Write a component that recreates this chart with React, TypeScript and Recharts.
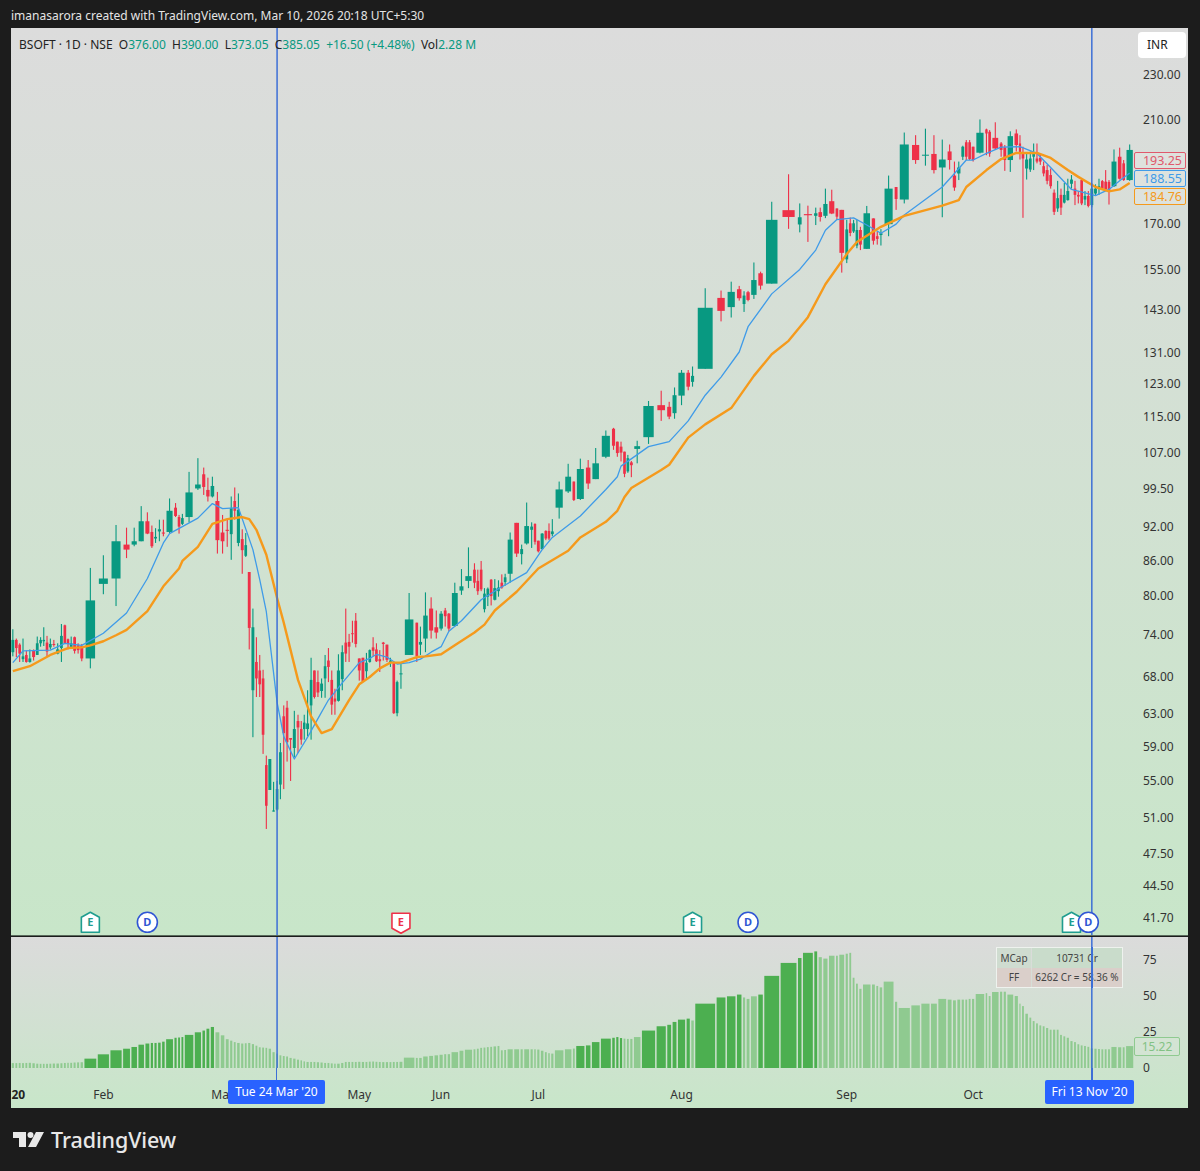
import { Bar, ComposedChart, Line, ReferenceDot, ReferenceLine, XAxis, YAxis } from "recharts";

const opens = [
  71.4, 73.2, 72.5, 70.4, 71.0, 70.0, 71.7, 71.0, 72.7, 73.0,
  72.8, 72.1, 72.6, 71.2, 72.0, 75.4, 73.3, 72.1, 73.6, 72.4,
  72.3, 70.5, 82.0, 82.9, 88.8, 88.8, 89.4, 93.1, 91.1, 89.9,
  91.2, 91.0, 91.1, 95.7, 93.9, 92.6, 93.9, 99.5, 102.4, 99.2,
  97.9, 97.0, 91.0, 91.5, 90.7, 97.0, 89.1, 89.8, 86.8, 84.0,
  66.1, 70.0, 68.8, 67.7, 56.8, 54.0, 51.7, 51.9, 54.6, 62.7,
  63.8, 60.0, 58.8, 62.1, 61.1, 61.1, 61.1, 64.1, 68.8, 67.2,
  66.0, 67.7, 70.2, 67.5, 65.0, 64.7, 67.6, 72.8, 72.9, 74.2,
  76.1, 70.5, 70.6, 68.7, 70.0, 72.1, 71.8, 70.4, 72.8, 72.5,
  70.0, 70.0, 63.1, 68.3, 71.0, 75.8, 72.5, 73.4, 78.0, 75.1,
  74.9, 77.7, 77.2, 75.3, 80.9, 82.5, 84.4, 82.5, 84.4, 77.9,
  79.9, 82.7, 79.4, 80.8, 82.2, 82.3, 83.7, 92.8, 87.1, 89.0,
  91.5, 92.6, 89.5, 88.0, 91.3, 91.3, 90.7, 95.7, 98.9, 100.9,
  97.4, 103.8, 101.4, 106.1, 112.3, 109.4, 108.3, 107.2, 103.0, 104.9,
  107.8, 110.4, 117.8, 117.4, 115.9, 120.1, 125.8, 123.5, 126.8, 146.4,
  143.7, 149.0, 144.6, 148.1, 147.3, 153.9, 150.7, 174.9, 169.9, 173.5,
  172.9, 174.2, 172.9, 178.1, 175.5, 175.0, 158.3, 170.3, 167.5, 162.8,
  168.0, 161.7, 172.0, 165.9, 166.3, 170.0, 183.3, 178.7, 199.6, 195.3,
  196.0, 190.7, 197.0, 187.6, 188.4, 194.9, 200.7, 200.7, 198.9, 196.5,
  206.0, 205.0, 202.5, 200.2, 198.6, 193.6, 204.3, 200.2, 196.2, 190.3,
  189.9, 194.9, 194.2, 194.5, 191.2, 189.7, 187.8, 181.2, 175.5, 180.4,
  177.6, 178.5, 184.5, 182.7, 180.4, 185.9, 178.7, 180.0, 176.7, 180.9,
  182.6, 185.5, 185.3, 185.2, 183.6, 194.9, 192.3, 185.9,
];
const highs = [
  74.8, 73.4, 72.7, 73.4, 71.6, 71.8, 71.8, 73.7, 73.6, 75.1,
  73.8, 73.4, 73.2, 72.7, 75.6, 75.5, 73.4, 73.7, 73.7, 72.7,
  72.6, 84.7, 86.9, 92.4, 91.9, 91.9, 96.0, 94.8, 92.3, 91.8,
  93.4, 93.4, 97.5, 96.6, 94.3, 94.5, 102.9, 105.8, 103.8, 101.7,
  101.9, 98.8, 94.3, 93.5, 97.9, 99.7, 98.5, 91.6, 90.9, 84.0,
  78.0, 73.6, 71.0, 68.9, 57.9, 57.5, 54.9, 55.0, 59.4, 64.1,
  64.7, 60.0, 63.4, 62.9, 62.1, 62.9, 66.1, 70.6, 68.8, 68.8,
  67.7, 71.0, 72.0, 68.8, 66.3, 71.1, 72.4, 78.0, 74.1, 76.1,
  77.3, 70.5, 70.6, 71.3, 71.8, 73.6, 72.7, 71.7, 72.9, 72.5,
  70.6, 70.0, 67.4, 69.7, 80.5, 75.8, 75.2, 80.6, 79.8, 77.7,
  77.6, 78.1, 77.3, 82.2, 84.5, 88.3, 85.5, 84.4, 85.9, 81.3,
  81.4, 82.8, 82.8, 82.6, 83.6, 83.7, 91.0, 92.8, 88.8, 96.7,
  92.9, 92.7, 89.5, 90.9, 91.4, 92.7, 93.5, 100.9, 104.6, 100.9,
  105.7, 105.4, 108.0, 111.9, 112.5, 109.4, 109.4, 107.2, 106.5, 105.2,
  109.6, 118.8, 121.3, 118.6, 122.1, 126.5, 126.5, 127.4, 149.3, 148.6,
  151.3, 150.0, 148.4, 148.5, 157.3, 154.4, 177.9, 188.1, 177.3, 176.5,
  175.8, 175.8, 182.7, 182.3, 175.5, 175.0, 171.5, 172.3, 171.5, 171.5,
  169.1, 176.4, 172.0, 167.5, 168.3, 187.6, 183.3, 204.7, 203.6, 206.3,
  203.6, 201.8, 199.8, 193.0, 193.0, 199.3, 201.6, 201.6, 198.9, 210.2,
  206.3, 205.7, 209.0, 200.8, 199.6, 205.2, 206.0, 203.6, 198.9, 196.2,
  197.0, 200.2, 200.2, 196.2, 193.0, 191.7, 190.3, 182.4, 185.6, 182.7,
  184.8, 186.4, 187.8, 185.6, 181.8, 186.4, 181.8, 181.8, 184.7, 184.3,
  186.4, 185.9, 189.7, 185.9, 197.8, 198.5, 193.6, 199.8,
];
const lows = [
  70.8, 70.7, 70.0, 70.0, 69.9, 69.9, 70.2, 71.0, 72.2, 72.3,
  70.7, 71.8, 72.2, 71.1, 70.0, 72.6, 71.8, 72.0, 71.2, 71.2,
  70.1, 69.1, 80.3, 78.4, 86.4, 88.5, 89.4, 90.7, 88.2, 89.1,
  89.4, 90.3, 90.9, 93.9, 90.8, 92.4, 92.9, 99.2, 98.2, 96.9,
  97.7, 87.2, 87.2, 88.4, 86.1, 93.4, 88.5, 83.7, 86.6, 71.8,
  60.1, 65.2, 65.2, 58.1, 49.9, 54.0, 51.7, 51.8, 53.0, 54.1,
  57.2, 55.0, 57.7, 58.2, 59.2, 59.8, 60.2, 59.8, 65.0, 65.2,
  65.1, 65.1, 67.2, 62.9, 62.9, 64.6, 66.1, 70.0, 70.0, 72.8,
  72.1, 67.4, 67.2, 67.6, 69.9, 70.8, 70.0, 68.6, 70.2, 70.0,
  69.3, 63.0, 62.7, 66.3, 71.0, 70.0, 71.0, 71.4, 73.4, 73.4,
  74.6, 75.2, 74.5, 75.2, 80.2, 81.3, 81.3, 80.2, 80.8, 77.4,
  78.4, 78.5, 79.3, 79.9, 81.2, 81.7, 82.2, 86.6, 85.3, 88.8,
  88.2, 88.8, 87.4, 87.9, 89.6, 89.6, 90.3, 93.6, 98.6, 97.0,
  97.2, 99.4, 101.4, 105.8, 107.6, 106.1, 105.1, 101.8, 102.7, 101.8,
  104.7, 108.9, 114.1, 114.5, 114.6, 117.8, 121.4, 122.3, 126.8, 139.6,
  140.7, 145.6, 142.3, 145.4, 146.1, 148.9, 150.7, 168.4, 167.2, 164.0,
  169.7, 170.9, 172.1, 173.5, 171.5, 154.1, 157.1, 165.9, 167.0, 161.9,
  161.3, 161.7, 163.1, 163.1, 162.8, 165.9, 175.0, 177.3, 192.1, 191.4,
  188.4, 172.4, 189.9, 181.9, 185.9, 193.6, 193.6, 193.6, 193.0, 196.2,
  195.5, 194.9, 197.8, 194.9, 189.4, 189.0, 197.0, 193.8, 172.2, 186.1,
  189.0, 189.7, 192.3, 191.7, 187.3, 184.3, 182.7, 173.2, 174.3, 173.2,
  177.3, 178.3, 182.7, 176.7, 177.3, 176.7, 176.7, 175.9, 175.9, 180.4,
  180.4, 182.4, 181.8, 176.9, 183.3, 186.1, 185.6, 185.6,
];
const closes = [
  73.2, 72.0, 71.2, 70.8, 70.0, 70.5, 70.7, 72.7, 73.2, 73.2,
  71.5, 72.6, 72.5, 71.8, 73.8, 72.7, 72.6, 72.7, 71.6, 71.7,
  70.5, 79.3, 82.9, 89.4, 87.9, 89.4, 93.1, 90.8, 88.5, 90.2,
  91.6, 90.8, 95.1, 94.1, 92.1, 93.7, 98.7, 100.3, 99.8, 97.9,
  100.0, 89.6, 89.4, 91.3, 95.6, 95.1, 95.3, 87.8, 88.7, 75.0,
  75.1, 67.7, 66.9, 60.4, 52.3, 57.5, 51.8, 54.1, 58.3, 60.6,
  59.5, 59.8, 61.1, 61.3, 59.8, 61.9, 61.8, 67.5, 65.2, 65.8,
  67.0, 69.4, 69.3, 64.2, 64.6, 68.8, 71.4, 71.2, 72.2, 74.1,
  72.6, 68.8, 67.3, 69.9, 71.7, 71.6, 70.1, 70.1, 72.6, 70.3,
  70.2, 63.1, 67.2, 68.4, 76.3, 70.8, 72.9, 76.9, 74.6, 74.3,
  77.2, 76.8, 74.9, 80.5, 81.6, 83.3, 82.2, 80.8, 81.1, 80.4,
  81.2, 80.0, 81.3, 81.4, 81.4, 83.1, 89.7, 87.2, 88.0, 92.2,
  92.1, 89.3, 87.6, 90.8, 89.9, 89.9, 91.2, 99.3, 101.9, 97.2,
  103.5, 100.5, 104.7, 110.7, 108.5, 106.9, 107.0, 102.5, 105.8, 104.3,
  108.4, 117.6, 116.6, 115.1, 120.2, 125.8, 122.3, 125.0, 143.5, 142.6,
  148.2, 146.3, 147.1, 145.8, 151.8, 150.1, 171.5, 172.5, 172.4, 173.1,
  173.8, 172.5, 177.1, 173.7, 172.6, 160.4, 168.2, 167.0, 170.3, 168.0,
  163.1, 173.8, 164.4, 165.0, 166.9, 182.7, 178.9, 199.8, 193.6, 195.7,
  189.7, 193.8, 193.6, 183.1, 190.7, 198.9, 194.9, 194.0, 193.6, 204.6,
  204.3, 196.2, 198.2, 197.6, 193.6, 203.2, 199.6, 196.2, 194.2, 193.8,
  194.2, 196.2, 193.0, 193.0, 188.4, 185.6, 183.6, 174.3, 179.2, 175.8,
  180.4, 181.8, 186.1, 180.4, 179.8, 177.3, 180.0, 176.4, 182.7, 182.7,
  183.6, 182.7, 182.4, 181.8, 193.0, 186.4, 185.9, 197.6,
];
// relative traded volume per session, sets how wide each candle is
const volumes = [
  11, 10, 10, 10, 10, 11, 11.5, 10.5, 9.5, 9.5,
  10, 10, 11, 12, 10.5, 10, 9, 10, 10.5, 10.5,
  11.5, 40, 38, 38, 25, 21, 21, 16, 11, 11,
  12, 12, 25, 11, 10, 10, 30, 23, 12, 13,
  14, 16, 15, 13, 11, 10, 12, 11, 10, 11,
  11, 10, 10, 10, 9.5, 11.5, 11, 10, 10, 10,
  10, 11, 11.5, 10.5, 9, 9, 11, 10, 10, 11,
  11, 10, 10, 10, 9, 12, 11, 10, 10, 10,
  10, 11, 11, 10, 10, 10, 10, 10, 11, 11,
  10, 10, 10, 13, 36, 10, 12, 18, 16, 15,
  14, 10.5, 11.5, 24, 16, 26, 10, 10, 10, 10,
  10, 10, 12, 10, 10, 10, 20, 19, 11, 19,
  11, 9, 11, 12, 10, 9, 11, 30, 24, 10,
  29, 18, 27, 34, 12, 11, 11, 10, 10, 11,
  24, 44, 32, 16, 16, 26, 14, 12, 64, 31,
  30, 18, 11, 13, 22, 18, 49, 52, 15, 34,
  13, 14, 17, 21, 10, 19, 11, 10, 10, 10,
  11, 27, 13, 10, 12, 34, 11, 38, 30, 29,
  22, 28, 16, 13, 13, 11, 10, 10, 11, 30,
  9, 10, 24, 11, 11, 22, 14, 8, 10, 12,
  10, 10, 10, 10, 10, 11, 10, 11, 10, 10,
  10, 11, 11, 10, 10, 10, 10, 10, 11, 11,
  10, 10, 10, 10, 20, 14, 10, 26,
];
const strength = [
  3.4, 3.4, 3.5, 3.4, 3.5, 3.6, 3.3, 3.0, 2.9, 2.9,
  2.9, 3.0, 3.1, 3.1, 3.3, 3.5, 3.6, 3.6, 3.8, 3.9,
  4.0, 6.5, 9.5, 12.3, 13.4, 14.6, 16.2, 17, 17.4, 17.4,
  17.6, 18.3, 20, 21, 21.2, 21.5, 23, 24.8, 26, 27.3,
  28.5, 24.8, 22.7, 20, 19, 18, 17.4, 17, 17.2, 17.4,
  16.6, 15.5, 14.4, 14.2, 14, 13.4, 11, 10, 8.8, 8.3,
  8, 7, 6.5, 5.8, 5.3, 4.6, 4.2, 4.2, 4.2, 4,
  3.8, 3.5, 3.5, 3.2, 3, 3, 3.5, 4.2, 4.2, 4.2,
  4.2, 4.3, 4.2, 4.2, 4.4, 4.5, 4.3, 4.2, 4.1, 4.1,
  4.1, 4.2, 4.2, 4.3, 7.2, 7, 7, 8, 8.4, 8.8,
  9.2, 9.6, 9.6, 11, 12, 12.7, 13, 13.4, 14, 14.2,
  14.5, 14.7, 15, 15.3, 12.3, 12.5, 13, 13, 13, 13,
  13, 13, 12.8, 12, 11, 10.3, 10, 12.3, 13, 13.5,
  15.3, 15.7, 18, 20.4, 21, 21.5, 20.8, 20.4, 20.2, 20.2,
  21.5, 26, 29, 30, 32, 33.6, 34.3, 33, 44.7, 49,
  49.8, 51, 49, 48, 49.8, 51, 64, 73, 76.4, 80,
  81, 77, 76, 78, 78, 78.7, 79.4, 80, 62.7, 58.6,
  55, 58, 58, 57, 56, 60, 46, 41.7, 43.5, 44.7,
  44.7, 48, 47.5, 47, 47.5, 47.5, 47.5, 48, 48, 51.4,
  52, 50, 52.8, 53, 53, 51, 50, 44.7, 43, 37.7,
  35, 32.6, 31, 29.6, 29, 27.8, 26.6, 26.6, 26.6, 23,
  22, 21, 18.7, 18, 16.5, 15.7, 15.3, 14.7, 13.6, 13.4,
  13.2, 13, 13, 13, 14.6, 14.4, 14.4, 15.22,
];
// [first, last] sessions where the lower study prints in the darker green
const strongRanges = [[21, 40], [130, 136], [141, 146], [148, 151], [155, 160]];

// moving averages as [session, price]
const fastAverage = [
  [0, 69.9], [3, 71.6], [11, 71.7], [15, 72.7], [20, 72.4], [22, 74.2], [24, 77.3], [27, 82.9], [31, 89.1], [32, 90.8],
  [37, 93.7], [40, 96.5], [42, 95.5], [46, 95.7], [50, 87.9], [52, 82.7], [54, 77.5], [57, 64.5], [59, 60.2], [62, 57.5],
  [66, 60.1], [69, 62.4], [72, 64.8], [76, 67.1], [81, 69.9], [84, 70.5], [86, 71.1], [89, 70.7], [92, 69.7], [94, 69.9],
  [96, 70.4], [98, 71.4], [100, 72.2], [102, 74.5], [104, 76.1], [108, 79.4], [113, 81.2], [119, 83.9], [123, 87.9], [126, 90.1],
  [130, 94.1], [133, 99.3], [135, 101.9], [136, 104.1], [141, 108.3], [143, 109.4], [146, 114.1], [148, 120.2], [149, 124.7], [151, 131.2],
  [153, 138.1], [156, 147.6], [158, 155.1], [160, 161.3], [162, 167.9], [164, 171.6], [168, 172.2], [171, 169.7], [174, 166.9], [176, 170.0],
  [177, 173.2], [181, 183.3], [183, 188.4], [186, 193.6], [188, 193.6], [190, 196.2], [193, 198.7], [197, 198.9], [202, 196.2], [206, 190.7],
  [212, 182.4], [219, 180.1], [223, 182.4], [225, 185.6], [227, 188.55],
];
const slowAverage = [
  [0, 68.7], [5, 69.4], [11, 71.0], [16, 72.0], [20, 72.1], [21, 72.4], [22, 73.0], [23, 73.9], [24, 74.7], [27, 77.6],
  [31, 81.6], [34, 84.6], [35, 85.9], [37, 88.4], [40, 92.6], [43, 93.5], [47, 93.9], [49, 93.5], [51, 91.5], [54, 87.0],
  [57, 79.7], [59, 75.8], [63, 67.5], [67, 62.7], [70, 60.6], [73, 61.1], [78, 64.8], [81, 66.9], [84, 67.9], [87, 69.1],
  [90, 69.9], [93, 69.9], [95, 70.7], [97, 70.8], [100, 71.1], [103, 72.4], [106, 74.3], [109, 75.5], [112, 77.7], [117, 80.7],
  [122, 84.6], [128, 87.7], [130, 90.1], [133, 93.0], [135, 95.1], [137, 97.8], [139, 99.6], [142, 103.3], [143, 104.4], [146, 110.3],
  [148, 113.3], [150, 117.1], [154, 125.0], [156, 130.6], [157, 134.2], [159, 140.8], [162, 150.5], [166, 160.0], [169, 164.0], [174, 169.1],
  [177, 172.9], [181, 176.5], [184, 178.5], [186, 183.3], [190, 189.7], [193, 194.0], [196, 196.4], [202, 196.4], [206, 194.4], [211, 189.7],
  [214, 187.1], [219, 183.3], [223, 181.7], [225, 182.4], [227, 184.76],
];

const priceTicks = [230, 210, 170, 155, 143, 131, 123, 115, 107, 99.5, 92, 86, 80, 74, 68, 63, 59, 55, 51, 47.5, 44.5, 41.7];
const strengthTicks = [0, 25, 50, 75];
const monthLabels = ["20", "Feb", "Mar", "May", "Jun", "Jul", "Aug", "Sep", "Oct"];
const monthSessions = [1, 22, 42, 81, 100, 122, 145, 166, 188];
const events = [
  { session: 21, kind: "E", tone: "up" },
  { session: 27, kind: "D", tone: "div" },
  { session: 93, kind: "E", tone: "down" },
  { session: 147, kind: "E", tone: "up" },
  { session: 153, kind: "D", tone: "div" },
  { session: 212, kind: "E", tone: "up" },
  { session: 217, kind: "D", tone: "div" },
];
const crosshairSessions = [57, 218];

const UP = "#089981";
const DOWN = "#ee3048";
const PLOT_W = 1123;
const FONT = "'Noto Sans', sans-serif";

let running = 0;
const rows = opens.map((open, i) => {
  const x = running + volumes[i] / 2;
  running += volumes[i];
  return {
    x,
    open,
    close: closes[i],
    wick: [lows[i], highs[i]],
    body: [Math.min(open, closes[i]), Math.max(open, closes[i])],
    volume: volumes[i],
    strength: strength[i],
    strong: strongRanges.some(([a, b]) => i >= a && i <= b),
    fast: undefined as number | undefined,
    slow: undefined as number | undefined,
  };
});
fastAverage.forEach(([i, v]) => (rows[i].fast = v));
slowAverage.forEach(([i, v]) => (rows[i].slow = v));
const totalVolume = running;
const unit = PLOT_W / totalVolume;
const monthTicks = monthSessions.map((i) => rows[i].x);

function Wick(props: any) {
  const { x, y, width, height, payload } = props;
  const fill = payload.close >= payload.open ? UP : DOWN;
  return <rect x={x + width / 2 - 0.55} y={y} width={1.1} height={height} fill={fill} />;
}

function Body(props: any) {
  const { x, y, width, height, payload } = props;
  const fill = payload.close >= payload.open ? UP : DOWN;
  const w = payload.volume * unit * 0.68 + 0.4;
  return <rect x={x + width / 2 - w / 2} y={y} width={w} height={Math.max(height, 1)} fill={fill} />;
}

function StrengthBar(props: any) {
  const { x, y, width, height, payload } = props;
  const w = Math.max(payload.volume * unit - 1.5, 1);
  return <rect x={x + width / 2 - w / 2} y={y} width={w} height={height} fill={payload.strong ? "#4caf50" : "#8fca90"} />;
}

function EventMark(props: any) {
  const { cx, cy, kind, tone } = props;
  const color = tone === "up" ? "#1f9d8f" : tone === "down" ? "#ee3048" : "#2f55d4";
  const textProps = { x: cx, y: cy + 4, textAnchor: "middle" as const, fontSize: 11, fontWeight: 700, fontFamily: FONT, fill: color };
  if (tone === "div") {
    return (
      <g>
        <circle cx={cx} cy={cy} r={10} fill="#fff" stroke={color} strokeWidth={1.6} />
        <text {...textProps}>{kind}</text>
      </g>
    );
  }
  const pts = tone === "up"
    ? `${cx},${cy - 10} ${cx + 9},${cy - 5} ${cx + 9},${cy + 10} ${cx - 9},${cy + 10} ${cx - 9},${cy - 5}`
    : `${cx - 9},${cy - 9} ${cx + 9},${cy - 9} ${cx + 9},${cy + 6} ${cx},${cy + 11} ${cx - 9},${cy + 6}`;
  return (
    <g>
      <polygon points={pts} fill="#fff" stroke={color} strokeWidth={1.6} strokeLinejoin="round" />
      <text {...textProps}>{kind}</text>
    </g>
  );
}

function MonthTick(props: any) {
  const { x, y, payload } = props;
  const label = monthLabels[monthTicks.indexOf(payload.value)];
  if (label === "20") {
    // year mark sits hard against the pane's left edge
    return <text x={0.5} y={y + 11} fontSize={12} fontFamily={FONT} fontWeight={700} fill="#222">{label}</text>;
  }
  return (
    <text x={x} y={y + 11} textAnchor="middle" fontSize={12} fontFamily={FONT} fill="#333">
      {label}
    </text>
  );
}

const box = (left: number, top: number, width: number, height: number, extra: any = {}) => ({
  position: "absolute" as const, left, top, width, height, ...extra,
});

function PriceTag({ top, color, text }: { top: number; color: string; text: string }) {
  return (
    <div style={box(1134, top, 52, 17, {
      border: `1.5px solid ${color}`, borderRadius: 2, color, fontSize: 12.5, lineHeight: "15px",
      textAlign: "right", paddingRight: 3, boxSizing: "border-box", fontFamily: FONT,
      background: "rgba(222,226,222,0.9)",
    })}>
      {text}
    </div>
  );
}

export default function App() {
  return (
    <div style={box(0, 0, 1200, 1171, { background: "#1c1c1c", overflow: "hidden", fontFamily: FONT })}>
      <div style={box(11, 7, 600, 18, { color: "#e4e4e4", fontSize: 12, lineHeight: "18px" })}>
        imanasarora created with TradingView.com, Mar 10, 2026 20:18 UTC+5:30
      </div>

      {/* panes */}
      <div style={box(11, 28, 1177, 907, { background: "linear-gradient(#dcdcdc, #c8e6c9)" })} />
      <div style={box(11, 937, 1177, 171, { background: "linear-gradient(#dbdbdb, #c8e6c9)" })} />
      <div style={box(11, 935, 1177, 1, { background: "#5a6a5c" })} />

      <div style={box(11, 28, 1177, 907)}>
        <ComposedChart width={1177} height={907} data={rows} margin={{ top: 0, right: 0, bottom: 0, left: 0 }}>
          <XAxis xAxisId="wick" dataKey="x" type="number" domain={[0, totalVolume]} hide />
          <XAxis xAxisId="body" dataKey="x" type="number" domain={[0, totalVolume]} hide />
          <YAxis
            orientation="right"
            width={54}
            scale="log"
            domain={[40.25, 253]}
            allowDataOverflow
            ticks={priceTicks}
            interval={0}
            tickFormatter={(v: number) => v.toFixed(2)}
            tick={{ fontSize: 12, fill: "#333", fontFamily: FONT }}
            tickSize={0}
            tickMargin={9}
            axisLine={false}
          />
          <Bar xAxisId="wick" dataKey="wick" barSize={1} shape={Wick} isAnimationActive={false} />
          <Bar xAxisId="body" dataKey="body" barSize={1} shape={Body} isAnimationActive={false} />
          <Line xAxisId="body" dataKey="fast" stroke="#3f9be8" strokeWidth={1.3} strokeLinejoin="round" dot={false} connectNulls isAnimationActive={false} />
          <Line xAxisId="body" dataKey="slow" stroke="#f59a1c" strokeWidth={2.4} strokeLinejoin="round" dot={false} connectNulls isAnimationActive={false} />
          {crosshairSessions.map((i) => (
            <ReferenceLine key={i} xAxisId="body" x={rows[i].x} stroke="#3d6fd6" strokeWidth={1.5} />
          ))}
          {events.map((e, i) => (
            <ReferenceDot
              key={i}
              xAxisId="body"
              x={rows[e.session].x}
              y={41.3}
              ifOverflow="visible"
              shape={(p: any) => <EventMark {...p} kind={e.kind} tone={e.tone} />}
            />
          ))}
        </ComposedChart>
      </div>

      <div style={box(11, 937, 1177, 171)}>
        <ComposedChart width={1177} height={171} data={rows} margin={{ top: 0, right: 0, bottom: 0, left: 0 }}>
          <XAxis
            dataKey="x"
            type="number"
            domain={[0, totalVolume]}
            ticks={monthTicks}
            interval={0}
            height={40}
            tick={MonthTick}
            tickLine={false}
            axisLine={false}
            tickSize={0}
            tickMargin={20}
          />
          <YAxis
            orientation="right"
            width={54}
            domain={[0, 91]}
            ticks={strengthTicks}
            interval={0}
            tick={{ fontSize: 12, fill: "#333", fontFamily: FONT }}
            tickSize={0}
            tickMargin={9}
            axisLine={false}
          />
          <Bar dataKey="strength" barSize={1} shape={StrengthBar} isAnimationActive={false} />
          {crosshairSessions.map((i) => (
            <ReferenceLine key={i} x={rows[i].x} stroke="#3d6fd6" strokeWidth={1.5} />
          ))}
        </ComposedChart>
      </div>

      {/* legend line */}
      <div style={box(19, 36, 560, 18, { fontSize: 12, lineHeight: "18px", color: "#222", whiteSpace: "pre" })}>
        {"BSOFT · 1D · NSE  O"}<span style={{ color: UP }}>376.00</span>{"  H"}<span style={{ color: UP }}>390.00</span>{"  L"}
        <span style={{ color: UP }}>373.05</span>{"  C"}<span style={{ color: UP }}>385.05</span>{"  "}
        <span style={{ color: UP }}>+16.50 (+4.48%)</span>{"  Vol"}<span style={{ color: UP }}>2.28 M</span>
      </div>

      <div style={box(1138, 32, 48, 26, {
        background: "#fff", borderRadius: 4, fontSize: 12, lineHeight: "26px", paddingLeft: 9, boxSizing: "border-box", color: "#222",
      })}>INR</div>

      <PriceTag top={152} color="#e0596c" text="193.25" />
      <PriceTag top={170} color="#3f9be8" text="188.55" />
      <PriceTag top={188} color="#f59a1c" text="184.76" />
      <div style={box(1134, 1037, 44, 17, {
        border: "1px solid #8fca90", borderRadius: 2, color: "#82c284", fontSize: 12, lineHeight: "17px", textAlign: "center",
        background: "#d3e4d3",
      })}>15.22</div>

      {/* market cap table */}
      <div style={box(996, 947, 127, 41, { fontSize: 10, color: "#444", border: "1px solid #eef2ee", boxSizing: "border-box" })}>
        <div style={box(0, 0, 34, 20, { background: "#cfdcd0", textAlign: "center", lineHeight: "20px" })}>MCap</div>
        <div style={box(35, 0, 90, 20, { background: "#c9dccb", textAlign: "center", lineHeight: "20px" })}>10731 Cr</div>
        <div style={box(0, 20, 34, 19, { background: "#dacfca", textAlign: "center", lineHeight: "19px" })}>FF</div>
        <div style={box(35, 20, 90, 19, { background: "#dacfca", textAlign: "center", lineHeight: "19px" })}>6262 Cr = 58.36 %</div>
      </div>
      {/* crosshair runs through the table */}
      <div style={box(1091.3, 947, 1.5, 41, { background: "#3d6fd6" })} />

      {/* crosshair date labels */}
      <div style={box(275.8, 1068, 1.5, 12, { background: "#3d6fd6" })} />
      <div style={box(1091.3, 1068, 1.5, 12, { background: "#3d6fd6" })} />
      <div style={box(228, 1080, 97, 24, { background: "#2962ff", color: "#fff", fontSize: 12, lineHeight: "24px", textAlign: "center", borderRadius: 2 })}>
        Tue 24 Mar '20
      </div>
      <div style={box(1045, 1080, 89, 24, { background: "#2962ff", color: "#fff", fontSize: 12, lineHeight: "24px", textAlign: "center", borderRadius: 2 })}>
        Fri 13 Nov '20
      </div>

      {/* logo */}
      <svg style={box(13, 1131, 31, 17)} viewBox="0 0 31 17">
        <path d="M0 1h13v15H6V7H0z" fill="#e8e8e8" />
        <circle cx="17.5" cy="4" r="3" fill="#e8e8e8" />
        <path d="M23 1h8l-8 15h-8z" fill="#e8e8e8" />
      </svg>
      <div style={box(51, 1126, 140, 28, { color: "#e8e8e8", fontSize: 21.5, fontWeight: 500, lineHeight: "28px", letterSpacing: -0.1 })}>
        TradingView
      </div>
    </div>
  );
}
